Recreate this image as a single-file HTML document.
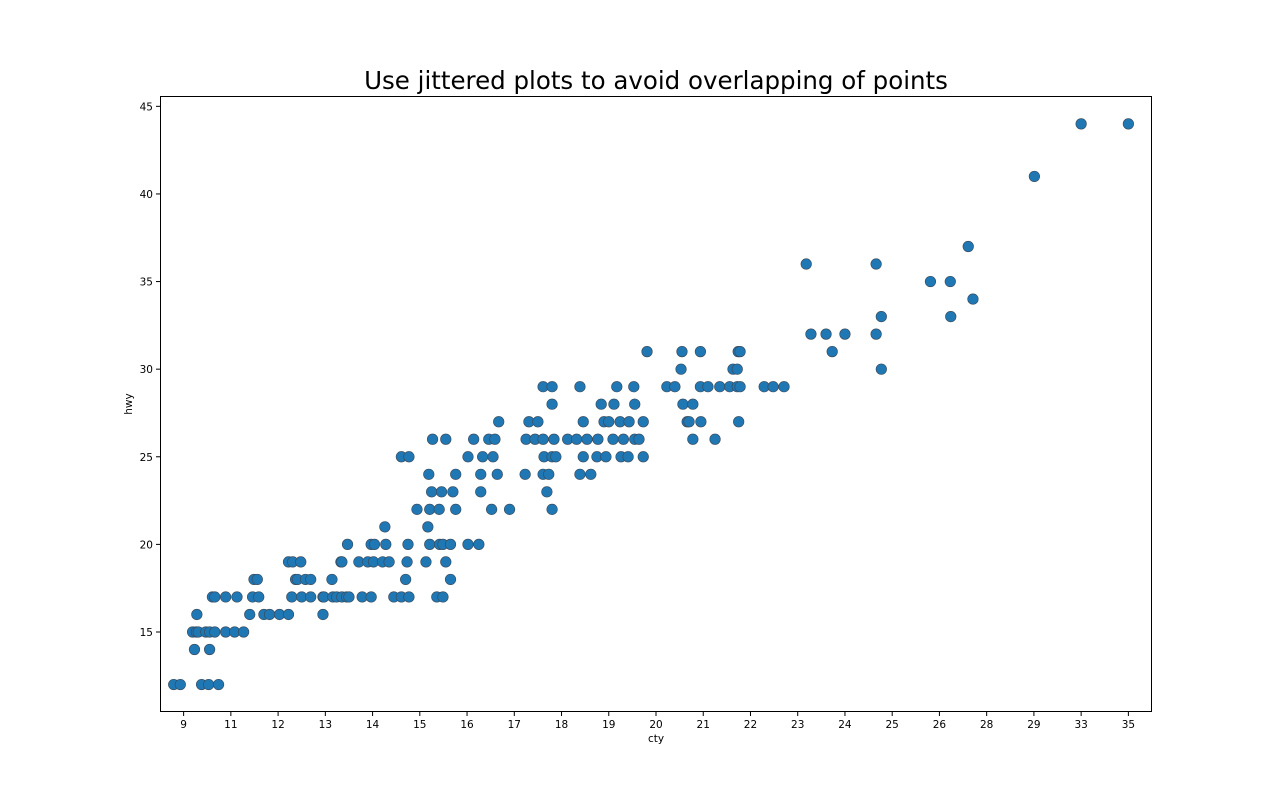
<!DOCTYPE html>
<html><head><meta charset="utf-8"><style>
body{margin:0;background:#fff;font-family:"DejaVu Sans","Liberation Sans",sans-serif}
</style></head><body>
<svg id="chart" width="1280" height="800" xmlns="http://www.w3.org/2000/svg" font-family="DejaVu Sans, Liberation Sans, sans-serif">
<rect width="1280" height="800" fill="#fff"/>
<text x="656" y="89" font-size="24.5" text-anchor="middle" fill="#000">Use jittered plots to avoid overlapping of points</text>
<g id="pts"></g>
<rect x="160.5" y="96.5" width="991" height="615" fill="none" stroke="#000" stroke-width="1"/>
<g id="ticks"></g>
<text x="656" y="742" font-size="10.5" text-anchor="middle">cty</text>
<text x="132" y="404" font-size="10.5" text-anchor="middle" transform="rotate(-90 132 404)">hwy</text>
</svg>
<script>
const categories=["9","11","12","13","14","15","16","17","18","19","20","21","22","23","24","25","26","28","29","33","35"];
const yTicks=[15,20,25,30,35,40,45];
// x values: category index plus read-off jitter; y values: hwy
const hwyVals=[12,14,15,16,17,18,19,20,21,22,23,24,25,26,27,28,29,30,31,32,33,34,35,36,37,41,44];
const xByHwy=[
[-0.21,-0.07,0.38,0.53,0.74],
[0.23,0.55],
[0.19,0.27,0.31,0.47,0.55,0.66,0.89,1.08,1.27],
[0.28,1.40,1.70,1.82,2.03,2.22,2.95],
[0.61,0.66,0.89,1.13,1.46,1.59,2.29,2.50,2.69,2.95,2.97,3.16,3.24,3.35,3.45,3.50,3.78,3.97,4.45,4.61,4.77,5.36,5.49],
[1.49,1.56,2.37,2.41,2.58,2.69,3.14,4.70,5.65],
[2.22,2.31,2.48,3.33,3.35,3.71,3.90,4.02,4.21,4.35,4.73,5.13,5.55],
[3.47,3.97,4.04,4.28,4.75,5.21,5.42,5.49,5.65,6.02,6.25],
[4.26,5.17],
[4.94,5.21,5.41,5.76,6.52,6.90,7.80],
[5.25,5.46,5.70,6.29,7.69],
[5.19,5.76,6.29,6.64,7.23,7.61,7.73,8.39,8.62],
[4.61,4.77,6.02,6.33,6.55,7.63,7.80,7.88,8.46,8.75,8.94,9.26,9.41,9.73],
[5.27,5.55,6.14,6.46,6.59,7.25,7.44,7.61,7.84,8.13,8.32,8.54,8.77,9.09,9.31,9.55,9.64,10.78,11.25],
[6.67,7.31,7.50,8.46,8.90,9.00,9.24,9.43,9.73,10.66,10.70,10.95,11.75],
[7.80,8.84,9.11,9.55,10.57,10.78],
[7.61,7.80,8.39,9.17,9.53,10.23,10.40,10.94,11.10,11.35,11.56,11.72,11.78,12.29,12.48,12.71],
[10.53,11.63,11.72,14.77],
[9.81,10.55,10.94,11.74,11.78,13.73],
[13.28,13.60,14.00,14.66],
[14.77,16.24],
[16.71],
[15.81,16.23],
[13.18,14.66],
[16.61],
[18.01],
[19.00,20.00]
];
const NS="http://www.w3.org/2000/svg";
const L=160,R=1152,T=96,B=712,ymin=10.434,ymax=45.59;
const xs=i=>L+(i+0.5)*(R-L)/categories.length;
const ys=v=>B-(v-ymin)/(ymax-ymin)*(B-T);
const pts=document.getElementById('pts');
hwyVals.forEach((h,r)=>{xByHwy[r].forEach(x=>{
 const c=document.createElementNS(NS,'circle');
 c.setAttribute('cx',xs(x));c.setAttribute('cy',ys(h));c.setAttribute('r',5.3);
 c.setAttribute('fill','#1f77b4');c.setAttribute('stroke','#3a4a5a');c.setAttribute('stroke-width','0.6');
 
 
 pts.appendChild(c);});});
const tk=document.getElementById('ticks');
categories.forEach((c,i)=>{
 const x=xs(i);
 const l=document.createElementNS(NS,'line');
 l.setAttribute('x1',x);l.setAttribute('x2',x);l.setAttribute('y1',B);l.setAttribute('y2',B+4);l.setAttribute('stroke','#000');
 
 
 tk.appendChild(l);
 const t=document.createElementNS(NS,'text');
 t.setAttribute('x',x);t.setAttribute('y',B+16);t.setAttribute('font-size','10.5');t.setAttribute('text-anchor','middle');t.textContent=c;
 
 
 tk.appendChild(t);});
yTicks.forEach(v=>{
 const y=ys(v);
 const l=document.createElementNS(NS,'line');
 l.setAttribute('x1',L-4);l.setAttribute('x2',L);l.setAttribute('y1',y);l.setAttribute('y2',y);l.setAttribute('stroke','#000');
 
 
 tk.appendChild(l);
 const t=document.createElementNS(NS,'text');
 t.setAttribute('x',L-7);t.setAttribute('y',y+4);t.setAttribute('font-size','10.5');t.setAttribute('text-anchor','end');t.textContent=v;
 
 
 tk.appendChild(t);});
</script>
</body></html>
